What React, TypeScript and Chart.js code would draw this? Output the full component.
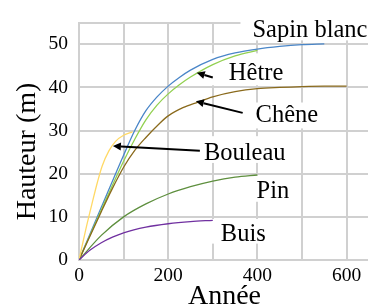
import React, { useEffect, useRef } from "react";
import { Chart, registerables } from "chart.js";

Chart.register(...registerables);

// ---- Data (years, heights in m) ----
const sapinYears = [0, 50, 100, 125, 150, 175, 200, 225, 250, 300, 350, 400, 450, 500, 550];
const sapinHeights = [0, 12.2, 24.3, 30.0, 34.6, 37.8, 40.3, 42.3, 44.0, 46.5, 48.0, 48.9, 49.5, 49.9, 50.1];

const hetreYears = [0, 50, 100, 125, 150, 175, 200, 225, 250, 300, 350, 400];
const hetreHeights = [0, 11.6, 22.9, 28.0, 32.5, 35.9, 38.5, 40.6, 42.4, 45.3, 47.3, 48.6];

const cheneYears = [0, 50, 75, 100, 125, 150, 180, 200, 233, 267, 300, 350, 400, 450, 500, 550, 600];
const cheneHeights = [0, 11.2, 16.6, 21.5, 25.4, 28.4, 31.6, 33.4, 35.3, 36.6, 37.8, 39.0, 39.7, 40.0, 40.2, 40.3, 40.3];

const bouleauYears = [0, 15, 30, 41, 52, 67, 82, 100, 120];
const bouleauHeights = [0, 7.0, 13.4, 17.9, 21.8, 25.3, 27.5, 28.9, 29.7];

const pinYears = [0, 50, 100, 150, 200, 250, 300, 350, 400];
const pinHeights = [0, 5.7, 10.0, 13.0, 15.3, 17.0, 18.3, 19.2, 19.7];

const buisYears = [0, 25, 50, 75, 100, 150, 200, 250, 300];
const buisHeights = [0, 2.3, 4.0, 5.3, 6.3, 7.6, 8.4, 8.9, 9.2];

const xTickLabels = [0, 200, 400, 600];
const yTickLabels = [0, 10, 20, 30, 40, 50];

const xTitle = "Année";
const yTitle = "Hauteur (m)";

// Annotation labels (left / baseline in data coords)
const labelTexts = ["Sapin blanc", "Hêtre", "Chêne", "Bouleau", "Pin", "Buis"];
const labelYears = [389, 336, 396, 280, 398, 318];
const labelHeights = [51.8, 41.7, 32.0, 23.2, 14.4, 4.5];
// white boxes behind labels: x0,x1 (years) y0,y1 (heights)
const boxX0 = [362, 298, 368, 264, 383, 289];
const boxX1 = [660, 481, 562, 484, 486, 433];
const boxY0 = [50.9, 40.5, 30.5, 22.5, 13.5, 3.8];
const boxY1 = [60, 47.9, 36.5, 28.7, 19.6, 9.5];

// Arrows: from (year,height) to tip (year,height)
const arrowFromYears = [300, 367, 271];
const arrowFromHeights = [42.3, 34.1, 25.3];
const arrowToYears = [264, 262, 76];
const arrowToHeights = [43.4, 36.8, 26.4];

const FONT = '"Liberation Serif", "Times New Roman", serif';

function pts(xs: number[], ys: number[]) {
  return xs.map((x, i) => ({ x, y: ys[i] }));
}

const annotationPlugin = {
  id: "annotations",
  beforeDatasetsDraw(chart: any) {
    const { ctx, scales } = chart;
    const xs = scales.x;
    const ys = scales.y;
    ctx.save();
    ctx.fillStyle = "#ffffff";
    for (let i = 0; i < boxX0.length; i++) {
      const x0 = xs.getPixelForValue(boxX0[i]);
      const x1 = xs.getPixelForValue(boxX1[i]);
      const y0 = ys.getPixelForValue(boxY1[i]);
      const y1 = ys.getPixelForValue(boxY0[i]);
      ctx.fillRect(x0, y0, x1 - x0, y1 - y0);
    }
    ctx.restore();
  },
  afterDraw(chart: any) {
    const { ctx, scales } = chart;
    const xs = scales.x;
    const ys = scales.y;
    ctx.save();
    ctx.fillStyle = "#000";
    ctx.font = `24.5px ${FONT}`;
    ctx.textAlign = "left";
    ctx.textBaseline = "alphabetic";
    for (let i = 0; i < labelTexts.length; i++) {
      ctx.fillText(labelTexts[i], xs.getPixelForValue(labelYears[i]), ys.getPixelForValue(labelHeights[i]));
    }
    // arrows
    ctx.strokeStyle = "#000";
    ctx.lineWidth = 2;
    for (let i = 0; i < arrowFromYears.length; i++) {
      const x0 = xs.getPixelForValue(arrowFromYears[i]);
      const y0 = ys.getPixelForValue(arrowFromHeights[i]);
      const x1 = xs.getPixelForValue(arrowToYears[i]);
      const y1 = ys.getPixelForValue(arrowToHeights[i]);
      const ang = Math.atan2(y1 - y0, x1 - x0);
      const hl = 8;
      const hw = 4;
      const bx = x1 - hl * Math.cos(ang);
      const by = y1 - hl * Math.sin(ang);
      ctx.beginPath();
      ctx.moveTo(x0, y0);
      ctx.lineTo(bx, by);
      ctx.stroke();
      ctx.beginPath();
      ctx.moveTo(x1, y1);
      ctx.lineTo(bx + hw * Math.sin(ang), by - hw * Math.cos(ang));
      ctx.lineTo(bx - hw * Math.sin(ang), by + hw * Math.cos(ang));
      ctx.closePath();
      ctx.fill();
    }
    // axis titles
    ctx.font = `28px ${FONT}`;
    ctx.textAlign = "center";
    ctx.textBaseline = "alphabetic";
    ctx.fillText(xTitle, (chart.chartArea.left + chart.chartArea.right) / 2 + 1, 304);
    ctx.translate(35, 151.5);
    ctx.rotate(-Math.PI / 2);
    ctx.fillText(yTitle, 0, 0);
    ctx.restore();
  },
};

export default function App() {
  const ref = useRef<HTMLCanvasElement>(null);
  useEffect(() => {
    if (!ref.current) return;
    const lw = 1.3;
    const mk = (label: string, xs: number[], ys: number[], color: string) => ({
      label,
      data: pts(xs, ys),
      borderColor: color,
      backgroundColor: color,
      borderWidth: lw,
      pointRadius: 0,
      showLine: true,
      fill: false,
      cubicInterpolationMode: "monotone" as const,
    });
    const grid = "#d0d0d0";
    const chart = new Chart(ref.current, {
      type: "scatter",
      data: {
        datasets: [
          mk("Buis", buisYears, buisHeights, "#7030a0"),
          mk("Pin", pinYears, pinHeights, "#5e8f3e"),
          mk("Bouleau", bouleauYears, bouleauHeights, "#ffd966"),
          mk("Chêne", cheneYears, cheneHeights, "#8a6a1c"),
          mk("Hêtre", hetreYears, hetreHeights, "#92d050"),
          mk("Sapin blanc", sapinYears, sapinHeights, "#4a86c8"),
        ],
      },
      options: {
        animation: false,
        responsive: false,
        maintainAspectRatio: false,
        layout: { padding: { top: 16, right: 0, left: 0, bottom: 0 } },
        plugins: { legend: { display: false }, tooltip: { enabled: false } },
        scales: {
          x: {
            type: "linear",
            min: 0,
            max: 648,
            afterFit(scale: any) {
              scale.height = 45;
            },
            afterBuildTicks(scale: any) {
              scale.ticks = [0, 100, 200, 300, 400, 500, 600].map((v) => ({ value: v }));
            },
            grid: { color: grid, lineWidth: 2, drawTicks: false },
            border: { color: grid, width: 2 },
            ticks: {
              autoSkip: false,
              maxRotation: 0,
              padding: 4,
              color: "#000",
              font: { family: FONT, size: 19.5 },
              callback: (v: any) => (xTickLabels.includes(Number(v)) ? String(v) : ""),
            },
          },
          y: {
            type: "linear",
            min: 0,
            max: 55,
            afterFit(scale: any) {
              scale.width = 79;
            },
            afterBuildTicks(scale: any) {
              scale.ticks = [0, 10, 20, 30, 40, 50, 55].map((v) => ({ value: v }));
            },
            grid: { color: grid, lineWidth: 2, drawTicks: false },
            border: { color: grid, width: 2 },
            ticks: {
              autoSkip: false,
              padding: 11,
              color: "#000",
              font: { family: FONT, size: 19.5 },
              callback: (v: any) => (yTickLabels.includes(Number(v)) ? String(v) : ""),
            },
          },
        },
      },
      plugins: [annotationPlugin],
    });
    return () => chart.destroy();
  }, []);
  return (
    <div style={{ position: "absolute", left: 0, top: 0, width: 368, height: 305, background: "#fff" }}>
      <canvas ref={ref} width={368} height={305} style={{ display: "block" }} />
    </div>
  );
}
